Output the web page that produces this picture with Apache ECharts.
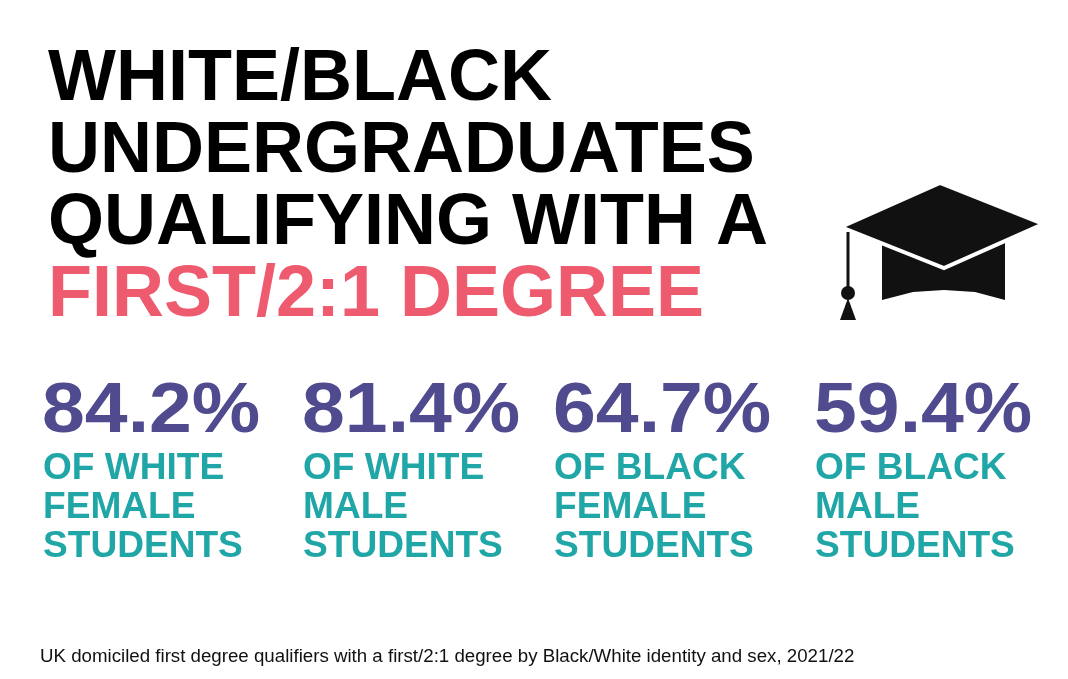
<!DOCTYPE html>
<html><head><meta charset="utf-8">
<script src="https://cdn.jsdelivr.net/npm/echarts@6/dist/echarts.min.js"></script>
<style>html,body{margin:0;padding:0;background:#fff}#c{width:1068px;height:679px}</style>
</head><body><div id="c"></div>
<script>
const titleLines = ["WHITE/BLACK", "UNDERGRADUATES", "QUALIFYING WITH A", "FIRST/2:1 DEGREE"];
const values = [84.2, 81.4, 64.7, 59.4];
const groupLabels = [
  ["OF WHITE", "FEMALE", "STUDENTS"],
  ["OF WHITE", "MALE", "STUDENTS"],
  ["OF BLACK", "FEMALE", "STUDENTS"],
  ["OF BLACK", "MALE", "STUDENTS"]
];
const footnote = "UK domiciled first degree qualifiers with a first/2:1 degree by Black/White identity and sex, 2021/22";

const colX = [42, 302, 553, 814];
const els = [];
titleLines.forEach((t, i) => {
  els.push({type:'text', x:48, y:44 + i*72, style:{text:t, fill: i===3 ? '#ef5b6e' : '#000', font:'900 72px "Liberation Sans", Arial, sans-serif'}});
});
values.forEach((v, i) => {
  els.push({type:'text', x:colX[i], y:378, scaleX:1.1, style:{text:v.toFixed(1)+'%', fill:'#504b8f', font:'bold 70px "Liberation Sans", Arial, sans-serif'}});
  groupLabels[i].forEach((l, j) => {
    els.push({type:'text', x:colX[i]+1, y:451 + j*39, scaleX:1.03, style:{text:l, fill:'#20a6a6', font:'bold 36px "Liberation Sans", Arial, sans-serif'}});
  });
});
els.push({type:'text', x:40, y:647, style:{text:footnote, fill:'#111', font:'18.7px "Liberation Sans", Arial, sans-serif'}});
// graduation cap
els.push({type:'polygon', shape:{points:[[882,240],[1005,240],[1005,300],[975,292],[944,290],[913,292],[882,300]]}, style:{fill:'#111'}});
els.push({type:'polygon', shape:{points:[[841,227],[940,183],[1043,224],[944,268]]}, style:{fill:'#111', stroke:'#fff', lineWidth:4}});
els.push({type:'line', shape:{x1:848,y1:232,x2:848,y2:290}, style:{stroke:'#111', lineWidth:3}});
els.push({type:'circle', shape:{cx:848,cy:293,r:7}, style:{fill:'#111'}});
els.push({type:'polygon', shape:{points:[[840,320],[848,298],[856,320]]}, style:{fill:'#111'}});

const chart = echarts.init(document.getElementById('c'));
chart.setOption({animation:false, graphic:{elements:els}});
</script></body></html>
